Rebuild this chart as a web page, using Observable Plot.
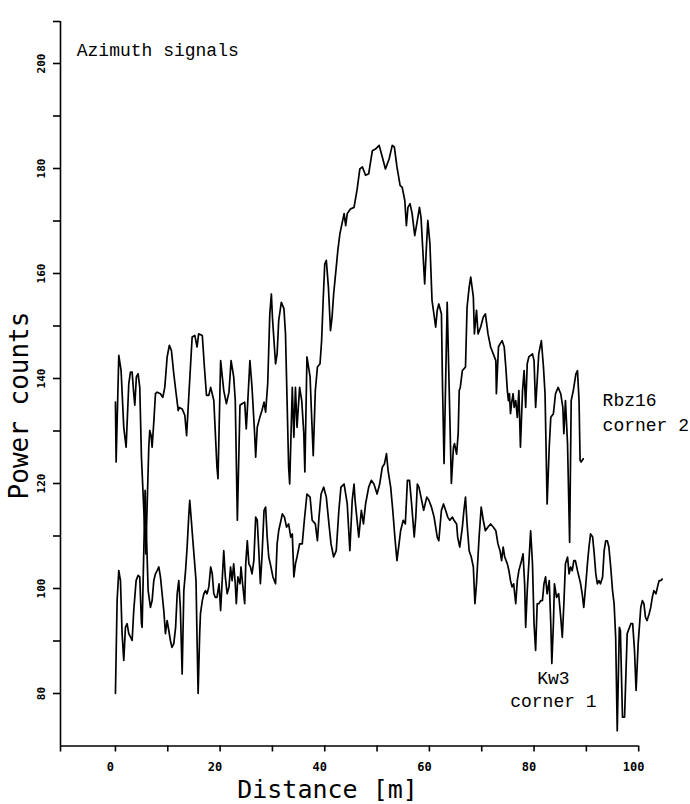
<!DOCTYPE html>
<html>
<head>
<meta charset="utf-8">
<script src="https://cdn.jsdelivr.net/npm/d3@7"></script>
<script src="https://cdn.jsdelivr.net/npm/@observablehq/plot@0.6"></script>
<style>
  html, body { margin: 0; padding: 0; background: #fff; }
  #chart svg { display: block; }
</style>
</head>
<body>
<div id="chart"></div>
<script>
// ---- Data ----
const rbzDistance = [0.0,0.13,0.64,1.08,1.59,2.04,2.55,2.87,3.19,3.5,3.7,4.0,4.33,4.65,4.97,5.8,6.37,6.56,6.82,7.01,7.33,7.65,7.97,8.6,9.05,9.43,9.88,10.3,10.7,11.15,11.6,12.0,12.2,12.75,13.26,13.6,13.9,14.34,14.66,15.17,15.6,15.9,16.6,17.0,17.4,17.85,18.2,18.8,19.4,19.6,20.1,20.7,21.2,21.7,22.1,22.6,22.9,23.3,23.8,24.2,24.7,25.0,25.2,25.7,26.1,26.6,26.8,27.1,27.6,28.0,28.4,28.7,29.1,29.5,29.8,30.0,30.3,30.6,30.9,31.2,31.7,32.2,32.5,32.8,33.1,33.3,33.8,34.1,34.4,34.7,35.2,35.6,36.0,36.2,36.6,37.2,37.5,37.8,38.2,38.6,39.1,39.4,39.7,40.0,40.3,40.7,41.1,41.4,41.7,42.2,42.5,42.9,43.3,43.7,44.0,44.3,44.9,45.6,46.2,46.7,47.2,47.8,48.4,49.1,49.7,50.4,51.0,51.6,52.3,52.9,53.3,53.8,54.4,54.8,55.3,55.6,55.9,56.3,56.7,57.2,57.7,58.1,58.4,58.8,59.1,59.4,59.7,60.1,60.5,60.9,61.2,61.5,61.8,62.3,62.5,62.8,63.4,64.2,64.6,64.8,65.2,65.5,65.7,65.9,66.3,66.9,67.2,67.6,67.9,68.4,68.6,69.0,69.3,69.8,70.3,70.7,71.2,71.7,72.2,72.7,72.8,73.2,73.5,73.9,74.3,74.6,74.9,75.1,75.3,75.5,75.7,76.0,76.2,76.5,76.8,77.1,77.4,77.8,78.1,78.4,78.7,79.0,79.7,80.0,80.3,80.9,81.4,81.8,82.1,82.5,82.9,83.2,83.7,84.1,84.6,85.1,85.5,85.7,86.0,86.4,86.8,87.1,87.5,88.0,88.3,88.6,88.8,89.0,89.4];
const rbzCounts = [135.5,124.1,144.4,141.5,130.7,126.9,139.0,141.2,141.2,137.1,134.9,140.3,140.9,138.3,125.0,106.6,126.9,130.1,129.1,126.9,131.7,137.1,137.4,137.1,136.4,138.3,144.1,146.3,145.3,140.9,137.1,133.9,134.5,134.2,133.0,129.1,134.5,142.3,147.9,148.2,146.0,148.5,148.2,142.2,136.8,136.8,138.3,135.8,123.1,120.9,143.4,137.7,135.2,137.4,143.4,140.3,135.8,113.0,134.9,135.2,135.5,130.4,133.9,143.4,138.3,129.5,125.0,130.7,132.6,133.9,135.5,133.6,139.0,152.3,156.1,151.7,147.2,142.8,144.7,151.0,154.5,153.3,148.5,135.8,123.1,119.9,138.3,128.8,138.3,130.7,138.3,135.8,129.5,122.2,144.1,140.3,132.6,125.3,137.7,142.2,142.8,147.2,154.9,161.8,162.5,157.4,149.1,151.7,156.1,161.2,164.4,167.6,169.5,171.4,169.1,171.4,172.3,172.6,176.1,179.9,180.3,178.7,179.0,183.4,183.7,184.4,182.2,179.9,181.8,184.4,184.1,180.3,176.8,176.4,173.9,169.1,172.6,173.3,171.4,167.2,170.1,172.6,170.7,163.4,158.0,164.4,170.1,165.7,154.9,152.0,149.8,153.0,154.2,152.3,139.0,123.8,154.5,120.0,126.9,127.6,125.6,129.5,137.7,138.3,141.5,142.2,153.6,157.4,159.3,155.5,148.5,153.0,148.5,149.8,151.7,152.3,148.5,146.0,144.7,143.4,137.1,146.0,146.6,147.2,146.0,142.2,137.7,135.8,137.1,133.3,135.2,137.1,134.5,135.8,132.6,137.7,126.9,137.7,141.5,134.5,142.8,144.1,144.7,143.4,134.5,144.7,147.2,142.2,137.1,116.1,126.9,132.6,133.3,137.1,138.3,137.1,134.5,129.5,135.8,127.6,108.8,135.8,137.7,140.9,141.5,135.8,124.4,124.1,124.7];

const kwDistance = [0.0,0.32,0.64,0.96,1.27,1.59,1.91,2.23,2.55,3.19,3.5,3.95,4.33,4.65,4.97,5.1,5.67,6.25,6.69,7.01,7.33,7.65,7.97,8.29,8.6,8.92,9.24,9.56,9.88,10.2,10.5,10.8,11.15,11.5,11.8,12.1,12.4,12.75,13.07,13.4,13.7,14.0,14.2,14.5,14.8,15.1,15.4,15.6,15.8,16.1,16.25,16.6,16.9,17.2,17.5,17.85,18.2,18.5,18.8,19.1,19.4,19.8,20.1,20.4,20.7,21.0,21.35,21.7,22.0,22.3,22.6,22.9,23.1,23.4,23.8,24.0,24.3,24.7,24.9,25.2,25.5,25.8,26.1,26.45,26.8,27.1,27.4,27.7,28.0,28.4,28.7,29.0,29.3,29.6,30.1,30.6,30.9,31.2,31.9,32.3,32.7,33.1,33.5,33.8,34.1,34.4,34.7,35.2,35.7,36.1,36.6,37.2,37.6,38.2,38.6,38.9,39.3,39.8,40.3,40.8,41.2,41.7,42.2,42.7,43.1,43.7,44.3,44.8,45.25,45.6,45.8,46.5,47.0,47.4,47.8,48.4,48.9,49.4,50.0,50.5,51.0,51.4,51.8,52.1,52.6,53.0,53.4,53.8,54.2,54.5,55.0,55.4,55.8,56.2,56.6,57.1,57.4,57.7,58.0,58.4,58.9,59.5,59.9,60.4,60.9,61.5,61.8,62.3,62.7,63.1,63.5,63.9,64.4,64.7,65.2,65.4,65.8,66.3,66.6,66.9,67.2,67.6,68.0,68.4,68.7,69.0,69.5,69.9,70.3,70.7,71.2,71.7,72.2,72.7,73.1,73.5,73.8,74.1,74.4,74.9,75.2,75.5,75.8,76.1,76.5,76.8,77.1,77.6,77.9,78.2,78.4,78.7,79.0,79.35,79.7,80.0,80.3,80.6,80.9,81.3,81.6,81.9,82.2,82.5,82.9,83.2,83.4,83.7,83.9,84.3,84.7,85.1,85.4,85.7,86.0,86.4,86.7,87.0,87.3,87.6,87.9,88.3,88.6,88.9,89.2,89.5,89.9,90.2,90.5,90.8,91.2,91.5,91.8,92.1,92.4,92.7,93.1,93.4,93.7,94.0,94.3,94.65,95.0,95.3,95.6,95.9,96.3,96.5,96.9,97.3,97.8,98.5,98.85,99.2,99.5,99.9,100.4,100.7,101.0,101.3,101.6,102.0,102.3,102.6,102.9,103.3,103.6,103.9,104.2,104.5];
const kwCounts = [80.0,97.7,103.4,101.5,91.4,86.3,92.6,93.3,91.4,90.1,95.8,101.5,102.5,102.2,93.3,92.6,118.7,99.6,96.4,97.7,101.5,102.8,103.4,104.1,102.2,99.0,95.8,91.4,93.9,92.0,90.1,88.8,89.5,92.6,99.0,101.5,96.4,83.7,99.6,103.4,107.9,113.6,116.8,113.0,109.1,105.3,101.5,90.1,80.0,91.4,95.2,97.7,99.0,99.6,99.0,100.3,104.1,102.8,99.0,98.3,98.3,100.9,95.8,101.5,107.2,102.2,99.0,100.3,104.1,101.5,104.7,100.9,97.1,102.2,100.9,104.1,100.9,97.1,104.7,109.1,104.7,104.1,102.8,105.3,113.6,113.0,107.2,100.9,106.0,114.9,115.5,109.8,106.0,104.7,102.2,100.9,108.5,111.0,114.2,113.6,111.7,112.3,109.8,110.4,102.2,104.7,106.0,108.5,108.5,113.0,118.0,117.4,113.0,112.3,109.1,113.6,118.0,119.3,117.4,112.3,108.5,106.0,107.2,114.9,119.3,119.9,116.1,107.2,116.8,119.9,116.8,109.8,114.9,112.3,116.1,119.3,120.6,119.9,118.0,119.9,123.1,123.7,125.7,122.5,119.3,114.9,109.8,105.3,108.5,111.0,113.0,112.3,120.6,120.6,116.1,109.8,113.6,119.9,119.3,117.4,114.9,117.4,116.8,115.5,113.6,109.8,109.1,114.9,116.1,114.9,113.6,113.0,113.6,113.0,112.3,109.8,107.9,111.7,114.9,117.4,112.3,107.2,106.0,104.1,97.1,100.9,109.8,115.5,113.0,111.0,111.7,112.3,111.7,111.0,108.5,107.2,105.3,107.9,106.0,104.7,103.4,101.5,100.3,100.9,97.1,101.5,103.4,105.3,106.6,100.9,92.6,99.6,104.7,111.0,104.7,93.3,88.2,97.1,97.1,97.7,97.7,100.9,102.2,99.0,101.5,93.3,85.7,93.3,100.9,98.3,99.0,94.5,90.7,97.1,104.7,106.0,102.8,104.1,103.4,105.3,105.3,103.4,102.2,100.9,99.0,96.4,100.9,104.7,107.9,110.4,109.8,106.6,102.8,100.9,101.5,100.9,102.2,107.2,109.1,109.1,107.9,104.1,99.6,97.1,90.7,72.9,92.6,92.0,75.5,75.5,91.4,93.3,93.3,88.2,80.6,89.5,96.4,97.7,97.1,94.5,93.9,95.2,96.4,98.3,99.6,99.0,100.3,101.5,101.5,101.8];

const xTickValues = [0, 10, 20, 30, 40, 50, 60, 70, 80, 90, 100];
const xTickLabels = [0, 20, 40, 60, 80, 100];
const yTickValues = [80, 90, 100, 110, 120, 130, 140, 150, 160, 170, 180, 190, 200];
const yTickLabels = [80, 100, 120, 140, 160, 180, 200];

const xTitle = "Distance [m]";
const yTitle = "Power counts";
const chartNote = "Azimuth signals";
const rbzLabel = "Rbz16\ncorner 2";
const kwLabel = "Kw3\ncorner 1";

// ---- Build tables ----
const rbz = rbzDistance.map((d, i) => ({distance: d, counts: rbzCounts[i]}));
const kw = kwDistance.map((d, i) => ({distance: d, counts: kwCounts[i]}));

const xMin = -10.5, xAxisEnd = 100, yMin = 70, yAxisEnd = 208;
const tickFont = "DejaVu Sans Mono, monospace";
const titleFont = "DejaVu Sans Mono, monospace";
const noteFont = "Liberation Mono, Courier New, monospace";

const chart = Plot.plot({
  width: 690,
  height: 804,
  marginLeft: 60,
  marginRight: 0,
  marginTop: 10.5,
  marginBottom: 58.5,
  style: {background: "#fff", color: "#000"},
  x: {domain: [xMin, 109.9], axis: null},
  y: {domain: [yMin, 210], axis: null},
  marks: [
    // axis lines
    Plot.ruleX([xMin], {y1: yMin, y2: yAxisEnd, stroke: "#000", strokeWidth: 1.6}),
    Plot.ruleY([yMin], {x1: xMin, x2: xAxisEnd, stroke: "#000", strokeWidth: 1.6}),
    // ticks
    Plot.axisY({ticks: [...yTickValues, yAxisEnd], tickSize: 7, tickFormat: () => "", label: null, strokeWidth: 1.6}),
    Plot.axisX({ticks: [xMin, ...xTickValues], tickSize: 6, tickFormat: () => "", label: null, strokeWidth: 1.6}),
    // tick labels
    Plot.text(yTickLabels, {x: xMin, y: d => d, text: d => String(d), rotate: -90, dx: -19,
      fontSize: 11, fontWeight: "bold", fontFamily: tickFont}),
    Plot.text(xTickLabels, {x: d => d, y: yMin, text: d => String(d), dy: 21, dx: -5,
      fontSize: 12, fontWeight: "bold", fontFamily: tickFont}),
    // series
    Plot.line(rbz, {x: "distance", y: "counts", stroke: "#000", strokeWidth: 1.7}),
    Plot.line(kw, {x: "distance", y: "counts", stroke: "#000", strokeWidth: 1.7}),
    // titles
    Plot.text([yTitle], {frameAnchor: "left", text: d => d, rotate: -90, textAnchor: "middle", lineAnchor: "middle",
      dx: -41, dy: 27, fontSize: 26, fontFamily: titleFont, letterSpacing: 3.5}),
    Plot.text([xTitle], {frameAnchor: "bottom", text: d => d, textAnchor: "middle", lineAnchor: "middle",
      dx: -48, dy: 44, fontSize: 25, fontFamily: titleFont}),
    // annotations
    Plot.text([chartNote], {x: -7.4, y: 202.5, text: d => d, textAnchor: "start",
      fontSize: 18, fontFamily: noteFont}),
    Plot.text([rbzLabel], {x: 93.1, y: 133.9, text: d => d, textAnchor: "start", lineHeight: 1.4,
      fontSize: 18, fontFamily: noteFont}),
    Plot.text([kwLabel], {x: 83.7, y: 81, text: d => d, textAnchor: "middle", lineHeight: 1.25,
      fontSize: 18, fontFamily: noteFont})
  ]
});

document.getElementById("chart").append(chart);
</script>
</body>
</html>
